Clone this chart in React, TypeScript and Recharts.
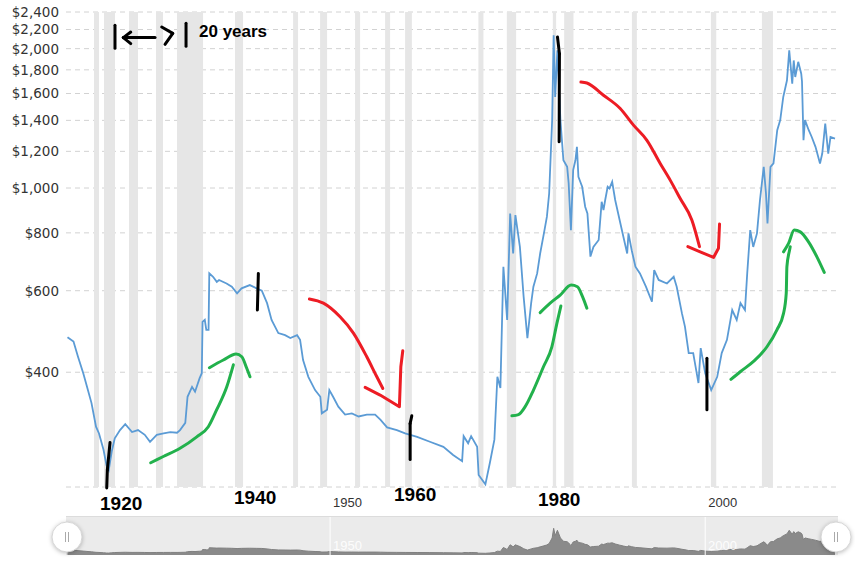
import React from 'react';
import {
  Area,
  AreaChart,
  CartesianGrid,
  ComposedChart,
  Line,
  ReferenceArea,
  ReferenceLine,
  XAxis,
  YAxis
} from 'recharts';

// gold price, inflation adjusted
const years = [
  1915.0, 1915.8, 1916.4, 1917.1, 1917.6, 1918.2, 1918.8, 1919.2, 1919.8, 1920.2, 1920.5, 1920.9,
  1921.3, 1922.0, 1922.7, 1923.6, 1924.4, 1925.3, 1926.0, 1926.9, 1927.8, 1928.7, 1929.6, 1930.0,
  1930.7, 1931.0, 1931.6, 1932.0, 1932.6, 1932.9, 1933.0, 1933.3, 1933.5, 1933.8, 1933.9, 1934.4,
  1934.9, 1935.2, 1936.2, 1936.9, 1937.6, 1938.2, 1939.3, 1940.2, 1940.9, 1941.6, 1942.2, 1943.1,
  1944.0, 1944.7, 1945.6, 1946.0, 1946.4, 1947.1, 1948.0, 1948.7, 1948.9, 1949.6, 1949.9, 1950.4,
  1951.1, 1952.0, 1952.9, 1953.8, 1954.9, 1956.0, 1956.7, 1957.6, 1958.9, 1960.0, 1961.6, 1963.3,
  1965.1, 1966.4, 1967.6, 1967.8, 1968.4, 1968.8, 1969.6, 1969.8, 1970.7, 1971.3, 1971.9, 1972.3,
  1972.7, 1973.1, 1973.6, 1974.0, 1974.4, 1974.7, 1975.3, 1975.8, 1976.3, 1976.8, 1977.1, 1977.6,
  1978.0, 1978.5, 1978.9, 1979.2, 1979.6, 1979.8, 1980.0, 1980.3, 1980.7, 1981.1, 1981.6, 1981.8,
  1982.1, 1982.4, 1982.7, 1982.9, 1983.1, 1983.6, 1984.0, 1984.3, 1984.7, 1985.1, 1985.8, 1986.2,
  1986.44, 1986.67, 1987.0, 1987.24, 1987.6, 1988.0, 1988.6, 1989.1, 1989.6, 1989.77, 1990.2, 1990.7,
  1991.3, 1992.1, 1992.9, 1993.2, 1993.8, 1994.9, 1995.8, 1996.2, 1996.9, 1997.3, 1997.8, 1998.4,
  1999.1, 1999.4, 2000.0, 2000.8, 2001.6, 2002.2, 2002.9, 2003.6, 2004.2, 2004.7, 2005.3, 2005.6,
  2006.0, 2006.4, 2006.9, 2007.3, 2007.8, 2008.1, 2008.3, 2008.7, 2009.1, 2009.6, 2010.0, 2010.4,
  2010.9, 2011.2, 2011.6, 2011.8, 2012.0, 2012.4, 2012.8, 2012.9, 2013.0, 2013.1, 2013.3, 2013.8,
  2014.2, 2014.7, 2015.3, 2015.6, 2016.0, 2016.4, 2016.7, 2017.3
];
const prices = [
  476, 466, 432, 398, 372, 343, 305, 295, 272, 252, 246, 270,
  288, 300, 309, 297, 300, 293, 283, 293, 295, 297, 296, 300,
  311, 354, 372, 363, 388, 398, 514, 519, 494, 494, 654, 643,
  627, 633, 622, 612, 592, 607, 617, 607, 600, 564, 519, 486,
  481, 474, 481, 470, 425, 391, 366, 354, 326, 332, 366, 354,
  337, 324, 326, 321, 324, 324, 316, 304, 300, 295, 290, 283,
  276, 265, 257, 291, 281, 291, 276, 240, 229, 255, 286, 391,
  370, 676, 519, 881, 722, 874, 746, 582, 474, 564, 612, 654,
  722, 798, 867, 973, 1402, 2137, 1572, 1983, 1402, 1148, 1111, 1023,
  811, 1093, 1148, 1227, 1057, 1006, 911, 881, 711, 746, 772, 934,
  896, 942, 1006, 998, 1031, 942, 852, 784, 722, 798, 734, 676,
  654, 612, 568, 665, 633, 622, 643, 612, 536, 502, 440, 440,
  379, 451, 398, 366, 391, 440, 470, 545, 519, 564, 545, 654,
  811, 746, 798, 942, 1111, 973, 838, 1111, 1130, 1333, 1402, 1572,
  1709, 1983, 1681, 1886, 1737, 1873, 1766, 1700, 1471, 1268, 1402, 1333,
  1289, 1227, 1130, 1187, 1378, 1187, 1289, 1279
];

const yTicks = [226, 400, 600, 800, 1000, 1200, 1400, 1600, 1800, 2000, 2200, 2400];
const xTicks = [1950, 2000];

// shaded recessions [start, end]
const recessions = [
  [1918.53, 1919.2], [1919.87, 1921.33], [1923.2, 1924.4], [1926.8, 1927.73], [1929.6, 1933.07],
  [1937.33, 1938.4], [1945.07, 1945.73], [1948.67, 1949.6], [1953.33, 1954.0], [1957.33, 1958.0],
  [1960.0, 1960.9], [1969.77, 1970.44], [1973.56, 1974.8], [1979.69, 1980.13], [1981.2, 1982.44],
  [1990.23, 1990.89], [2000.76, 2001.47], [2007.56, 2009.03]
];

// hand drawn marks, in [year, price]
const redCurves = [
  [[1947.24, 576], [1949.11, 564], [1951.33, 527], [1953.11, 486], [1954.89, 432], [1956.23, 391], [1957.03, 369]],
  [[1983.43, 1694], [1984.23, 1686], [1986.44, 1586], [1988.67, 1485], [1990.44, 1367], [1992.23, 1268],
    [1994.0, 1130], [1995.33, 1040], [1996.67, 949], [1998.23, 852], [1999.24, 747]]
];
const redHeads = [
  [[1954.67, 371], [1956.67, 357], [1959.24, 337], [1959.43, 411], [1959.69, 445]],
  [[1997.69, 747], [1999.33, 728], [2001.11, 708], [2001.77, 741], [2001.91, 836]]
];
const greenCurves = [
  [[1926.09, 255], [1927.77, 263], [1930.0, 274], [1932.23, 290], [1933.77, 305], [1934.89, 332], [1936.23, 372], [1937.11, 415]],
  [[1933.91, 409], [1935.77, 425], [1937.47, 438], [1938.23, 432], [1938.89, 408], [1939.33, 391]],
  [[1974.23, 322], [1975.11, 324], [1976.0, 337], [1977.11, 366], [1978.44, 411], [1979.56, 454], [1980.23, 510], [1980.76, 556]],
  [[1978.0, 538], [1979.33, 564], [1980.67, 587], [1982.13, 617], [1982.97, 612], [1983.56, 587], [1984.23, 550]],
  [[2003.43, 386], [2004.67, 401], [2006.44, 422], [2008.23, 454], [2009.56, 494], [2010.44, 536], [2010.8, 592],
    [2010.89, 676], [2011.24, 734], [2011.33, 747]],
  [[2010.44, 728], [2011.11, 759], [2011.87, 811], [2012.67, 804], [2013.77, 765], [2014.89, 710], [2015.87, 657]]
];
const blackStrokes = [
  [[1920.67, 282], [1920.31, 246]], [[1920.31, 246], [1920.23, 225]],
  [[1940.44, 654], [1940.31, 545]],
  [[1960.89, 322], [1960.67, 310]], [[1960.67, 310], [1960.67, 259]],
  [[1980.31, 2119], [1980.57, 1951]], [[1980.57, 1951], [1980.53, 1258]],
  [[2000.23, 429], [2000.23, 332]],
  // |<-?| 20 years
  [[1921.33, 2246], [1921.33, 2003]], [[1930.8, 2268], [1930.8, 2023]],
  [[1922.44, 2113], [1926.67, 2113]], [[1923.43, 2172], [1922.44, 2113]], [[1922.44, 2113], [1923.43, 2051]],
  [[1927.56, 2227], [1929.03, 2158]], [[1929.03, 2158], [1928.0, 2043]]
];

const yearLabels = ['1920', '1940', '1960', '1980'];
const yearLabelPos = [[100, 510], [234, 504], [394, 501], [538, 506]];

const table = years.map((year, i) => ({ year, price: prices[i] }));
const X_DOMAIN = [1914.8, 2017.7];

const YTick = ({ x, y, payload }: any) => {
  if (payload.value === 226) return null;
  return (
    <text x={x + 1} y={y} dy="0.36em" textAnchor="end" fontSize={13.5} fill="#333"
      fontFamily="DejaVu Sans, Verdana, sans-serif">
      ${payload.value.toLocaleString('en-US')}
    </text>
  );
};

const XTick = ({ x, y, payload }: any) => (
  <text x={x + 3} y={y + 12} fontSize={13} fill="#333" fontFamily="Liberation Sans, Arial, sans-serif">
    {payload.value}
  </text>
);

const Handle = ({ cx }: { cx: number }) => (
  <g>
    <circle cx={cx} cy={537} r={15} fill="#fff" stroke="#d6d6d6" style={{ filter: 'drop-shadow(0 1px 2px rgba(0,0,0,0.25))' }} />
    <line x1={cx - 1.5} x2={cx - 1.5} y1={532} y2={542} stroke="#aaa" />
    <line x1={cx + 1.5} x2={cx + 1.5} y1={532} y2={542} stroke="#aaa" />
  </g>
);

const stroke = (s: number[][], key: string, color: string, curve: 'monotone' | 'linear') => (
  <Line key={key} data={s.map(([year, v]) => ({ year, v }))} dataKey="v" stroke={color}
    strokeWidth={3} dot={false} activeDot={false} isAnimationActive={false} type={curve}
    strokeLinecap="round" strokeLinejoin="round" />
);

export default function App() {
  return (
    <div style={{ position: 'absolute', left: 0, top: 0, width: 855, height: 564, background: '#fff' }}>
      <div style={{ position: 'absolute', left: 0, top: 0 }}>
        <ComposedChart width={855} height={515} data={table} margin={{ top: 12, right: 17, bottom: 0, left: 0 }}>
          {recessions.map(([a, b]) => (
            <ReferenceArea key={a} x1={a} x2={b} fill="#e6e6e6" fillOpacity={1} stroke="none" ifOverflow="visible" />
          ))}
          <CartesianGrid vertical={false} stroke="#d2d2d2" strokeDasharray="5 4" />
          <XAxis dataKey="year" type="number" domain={X_DOMAIN} allowDataOverflow ticks={xTicks}
            tickLine={false} axisLine={false} height={28} tick={<XTick />} />
          <YAxis scale="log" domain={[226, 2400]} allowDataOverflow ticks={yTicks} width={66}
            tickLine={false} axisLine={false} tick={<YTick />} interval={0} />
          <Line dataKey="price" stroke="#5b9bd5" strokeWidth={1.8} dot={false} activeDot={false}
            isAnimationActive={false} type="linear" />
          {redCurves.map((s, i) => stroke(s, 'rc' + i, '#ed1c24', 'monotone'))}
          {redHeads.map((s, i) => stroke(s, 'rh' + i, '#ed1c24', 'linear'))}
          {greenCurves.map((s, i) => stroke(s, 'g' + i, '#22b14c', 'monotone'))}
          {blackStrokes.map((s, i) => (
            <ReferenceLine key={'b' + i} segment={s.map(([x, y]) => ({ x, y }))} stroke="#000"
              strokeWidth={3} ifOverflow="visible" strokeLinecap="round" />
          ))}
        </ComposedChart>
      </div>

      <div style={{ position: 'absolute', left: 66, top: 516, width: 772, height: 38, background: '#ebebeb',
        borderTop: '1px solid #dcdcdc' }}>
        <AreaChart width={772} height={38} data={table} margin={{ top: 0, right: 0, bottom: 0, left: 0 }}>
          <XAxis dataKey="year" type="number" domain={X_DOMAIN} allowDataOverflow hide />
          <YAxis domain={[100, 3000]} allowDataOverflow hide />
          <Area dataKey="price" stroke="#808080" strokeWidth={1} fill="#8a8a8a" fillOpacity={1}
            isAnimationActive={false} type="linear" dot={false} activeDot={false} />
          {xTicks.map((t) => (
            <ReferenceLine key={t} x={t} stroke="#fff" strokeWidth={1} />
          ))}
        </AreaChart>
      </div>

      <svg width={855} height={564} style={{ position: 'absolute', left: 0, top: 0, pointerEvents: 'none' }}>
        <text x={199} y={37} fontSize={17} fontWeight="bold" fill="#000" fontFamily="Liberation Sans, Arial, sans-serif">
          20 years
        </text>
        {yearLabels.map((t, i) => (
          <text key={t} x={yearLabelPos[i][0]} y={yearLabelPos[i][1]} fontSize={19} fontWeight="bold" fill="#000"
            fontFamily="Liberation Sans, Arial, sans-serif">
            {t}
          </text>
        ))}
        {xTicks.map((t) => (
          <text key={t} x={t === 1950 ? 333 : 708} y={550} fontSize={13} fill="#fff" fillOpacity={0.9}
            fontFamily="Liberation Sans, Arial, sans-serif">
            {t}
          </text>
        ))}
        <Handle cx={67} />
        <Handle cx={836} />
      </svg>
    </div>
  );
}
